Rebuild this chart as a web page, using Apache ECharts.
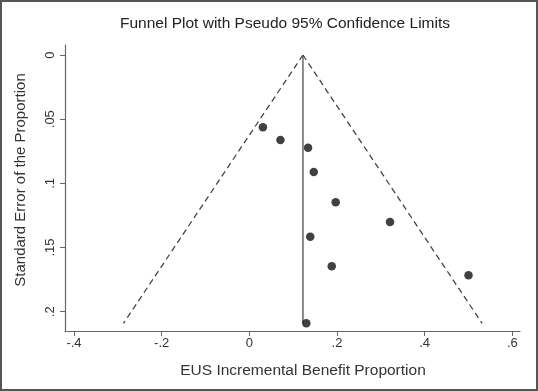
<!DOCTYPE html>
<html>
<head>
<meta charset="utf-8">
<script src="https://cdn.jsdelivr.net/npm/echarts@6/dist/echarts.min.js"></script>
<style>
  html, body { margin: 0; padding: 0; background: #fff; }
  #chart { width: 538px; height: 391px; }
</style>
</head>
<body>
<div id="chart"></div>
<script>
// study estimates (proportion) and their standard errors
const proportion = [0.031, 0.071, 0.134, 0.147, 0.197, 0.321, 0.139, 0.188, 0.500, 0.130];
const stdError   = [0.0563, 0.0662, 0.0722, 0.0911, 0.1147, 0.1301, 0.1415, 0.1646, 0.1716, 0.209];

// pooled estimate line and pseudo 95% limits
const pooledLine = [[0.1223, 0], [0.1223, 0.209]];
const leftLimit  = [[0.1223, 0], [-0.287, 0.209]];
const rightLimit = [[0.1223, 0], [0.531, 0.209]];

const xTicks = [-0.4, -0.2, 0, 0.2, 0.4, 0.6];
const yTicks = [0, 0.05, 0.1, 0.15, 0.2];

const stataNum = function (v) {
    let s = String(Math.round(v * 1000) / 1000);
    return s.replace(/^0\./, '.').replace(/^-0\./, '-.');
};

const myChart = echarts.init(document.getElementById('chart'));
const font = 'Liberation Sans, Arial, sans-serif';

const option = {
    backgroundColor: '#fff',
    animation: false,
    title: {
        text: 'Funnel Plot with Pseudo 95% Confidence Limits',
        left: 280,
        textAlign: 'center',
        top: 11,
        textStyle: { fontFamily: font, fontSize: 15.5, fontWeight: 'normal', color: '#222' }
    },
    graphic: [{
        type: 'rect',
        shape: { x: 1, y: 1, width: 536, height: 389 },
        style: { fill: 'none', stroke: '#555', lineWidth: 2 },
        silent: true
    }],
    grid: { left: 65, right: 18, top: 45, bottom: 60 },
    xAxis: {
        type: 'value',
        position: 'bottom',
        min: -0.4205,
        max: 0.6175,
        name: 'EUS Incremental Benefit Proportion',
        nameLocation: 'middle',
        nameGap: 32,
        nameTextStyle: { fontFamily: font, fontSize: 15.5, color: '#333', padding: [0, 0, 0, 21] },
        splitLine: { show: false },
        axisLine: { onZero: false, lineStyle: { color: '#666', width: 1.2 } },
        axisTick: { customValues: xTicks, length: 5, lineStyle: { color: '#666' } },
        axisLabel: {
            customValues: xTicks,
            formatter: stataNum,
            fontFamily: font, fontSize: 13, color: '#333', margin: 6
        }
    },
    yAxis: {
        type: 'value',
        inverse: true,
        min: -0.0078,
        max: 0.215,
        name: 'Standard Error of the Proportion',
        nameLocation: 'middle',
        nameGap: 37,
        nameRotate: 90,
        nameTextStyle: { fontFamily: font, fontSize: 15, color: '#333', padding: [0, 0, 0, 16] },
        splitLine: { show: false },
        axisLine: { onZero: false, lineStyle: { color: '#666', width: 1.2 } },
        axisTick: { customValues: yTicks, length: 5, lineStyle: { color: '#666' } },
        axisLabel: {
            customValues: yTicks,
            rotate: 90,
            formatter: stataNum,
            fontFamily: font, fontSize: 13, color: '#333', margin: 8
        }
    },
    series: [
        {
            type: 'line',
            data: pooledLine,
            symbol: 'none',
            lineStyle: { color: '#666', width: 1.5 },
            z: 2
        },
        {
            type: 'line',
            data: leftLimit,
            symbol: 'none',
            lineStyle: { color: '#444', width: 1.3, type: [6, 4] },
            z: 2
        },
        {
            type: 'line',
            data: rightLimit,
            symbol: 'none',
            lineStyle: { color: '#444', width: 1.3, type: [6, 4] },
            z: 2
        },
        {
            type: 'scatter',
            data: proportion.map((p, i) => [p, stdError[i]]),
            symbol: 'circle',
            symbolSize: 8.5,
            itemStyle: { color: '#111' },
            z: 3
        }
    ]
};

myChart.setOption(option);
</script>
</body>
</html>
